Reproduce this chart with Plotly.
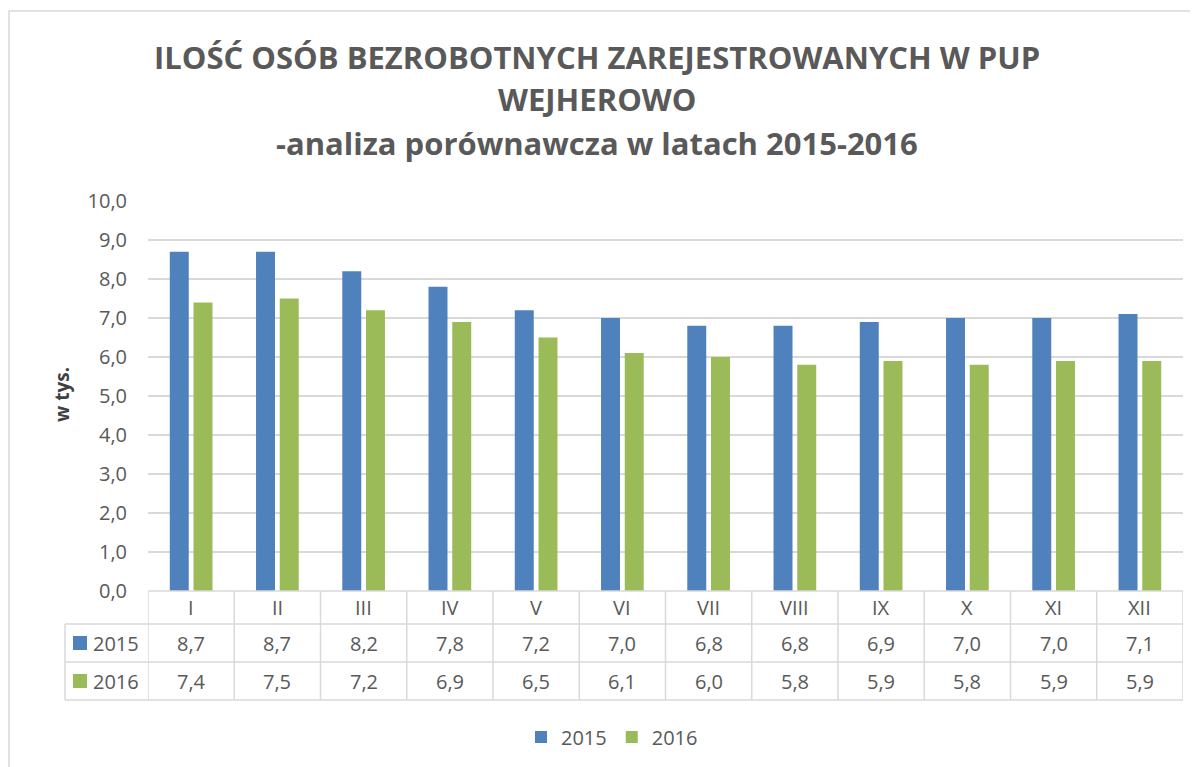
import plotly.graph_objects as go

months = ["I", "II", "III", "IV", "V", "VI", "VII", "VIII", "IX", "X", "XI", "XII"]
years = ["2015", "2016"]
v2015 = [8.7, 8.7, 8.2, 7.8, 7.2, 7.0, 6.8, 6.8, 6.9, 7.0, 7.0, 7.1]
v2016 = [7.4, 7.5, 7.2, 6.9, 6.5, 6.1, 6.0, 5.8, 5.9, 5.8, 5.9, 5.9]
colors = ["#4F81BD", "#9BBB59"]

W, H = 1198, 767
OFF = 8                              # default page margin of the html body
L, R, T, B = 148, 1183, 201, 591     # plot area in page pixels
FONT = "Open Sans"
GREY = "#595959"
LINE = "#D9D9D9"


def px(x):
    return (x - L) / (R - L)


def py(y):
    return (B - y) / (B - T)


def fmt(v):
    return f"{v:.1f}".replace(".", ",")


fig = go.Figure()
xs = list(range(len(months)))
for name, vals, col in zip(years, [v2015, v2016], colors):
    fig.add_trace(go.Bar(x=xs, y=vals, name=name, marker=dict(color=col, line=dict(width=0))))

# ---- data table under the axis --------------------------------------------------
rows = [591, 624, 662, 700]
shapes = []
shapes.append(dict(type="line", xref="paper", yref="paper", x0=px(L), x1=px(R), y0=py(rows[0]), y1=py(rows[0])))
for r in rows[1:]:
    shapes.append(dict(type="line", xref="paper", yref="paper", x0=px(65), x1=px(R), y0=py(r), y1=py(r)))
for k in range(len(months) + 1):
    shapes.append(dict(type="line", xref="x", yref="paper", x0=k - 0.5, x1=k - 0.5, y0=py(rows[0]), y1=py(rows[3])))
shapes.append(dict(type="line", xref="paper", yref="paper", x0=px(65), x1=px(65), y0=py(rows[1]), y1=py(rows[3])))
for s in shapes:
    s["line"] = dict(color=LINE, width=1.5)
    s["layer"] = "above"

cell_font = dict(size=20, color=GREY, family=FONT)
annotations = []
for i, m in enumerate(months):
    annotations.append(dict(x=i, y=py((rows[0] + rows[1]) / 2), xref="x", yref="paper", text=m,
                            showarrow=False, xanchor="center", yanchor="middle", font=cell_font))
for j, vals in enumerate([v2015, v2016]):
    ymid = (rows[j + 1] + rows[j + 2]) / 2
    for i, v in enumerate(vals):
        annotations.append(dict(x=i, y=py(ymid), xref="x", yref="paper", text=fmt(v), showarrow=False,
                                xanchor="center", yanchor="middle", font=cell_font))
    annotations.append(dict(x=px(91), y=py(ymid), xref="paper", yref="paper", text=years[j], showarrow=False,
                            xanchor="left", yanchor="middle", font=cell_font))
    shapes.append(dict(type="rect", xref="paper", yref="paper", x0=px(73), x1=px(87),
                       y0=py(ymid - 7), y1=py(ymid + 7), fillcolor=colors[j], line=dict(width=0)))

# ---- title and axis label -------------------------------------------------------
title_lines = ["ILOŚĆ OSÓB BEZROBOTNYCH ZAREJESTROWANYCH W PUP", "WEJHEROWO",
               "-analiza porównawcza w latach 2015-2016"]
for yy, t in zip([57, 99, 143], title_lines):
    annotations.append(dict(x=px(597), y=py(yy), xref="paper", yref="paper", text=f"<b>{t}</b>",
                            showarrow=False, xanchor="center", yanchor="middle",
                            font=dict(size=31, color=GREY, family=FONT)))
annotations.append(dict(x=px(62), y=py(395), xref="paper", yref="paper", text="<b>w tys.</b>",
                        textangle=-90, showarrow=False, xanchor="center", yanchor="middle",
                        font=dict(size=19, color="#404040", family=FONT)))

# outer chart border
shapes.append(dict(type="rect", xref="paper", yref="paper", x0=px(9), x1=px(1215), y0=py(11), y1=py(785),
                   line=dict(color=LINE, width=1.5), layer="below"))

fig.update_layout(
    width=W - OFF, height=H - OFF,
    margin=dict(l=L - OFF, r=W - R, t=T - OFF, b=H - B, autoexpand=False),
    plot_bgcolor="white", paper_bgcolor="white",
    separators=",.",
    barmode="group", bargap=0.45, bargroupgap=0.2,
    font=dict(family=FONT, color=GREY, size=20),
    xaxis=dict(range=[-0.5, 11.5], showticklabels=False, showgrid=False, zeroline=False, ticks=""),
    yaxis=dict(range=[0, 10], dtick=1, tickformat=".1f", showgrid=True, gridcolor=LINE, gridwidth=1.5,
               zeroline=False, ticklabelstandoff=20, tickfont=dict(size=20, color=GREY)),
    legend=dict(orientation="h", x=px(612), xanchor="center", y=py(737), yanchor="middle",
                font=dict(size=20, color=GREY), itemwidth=30, traceorder="normal"),
    shapes=shapes,
    annotations=annotations,
)

fig.write_html("out.html")
